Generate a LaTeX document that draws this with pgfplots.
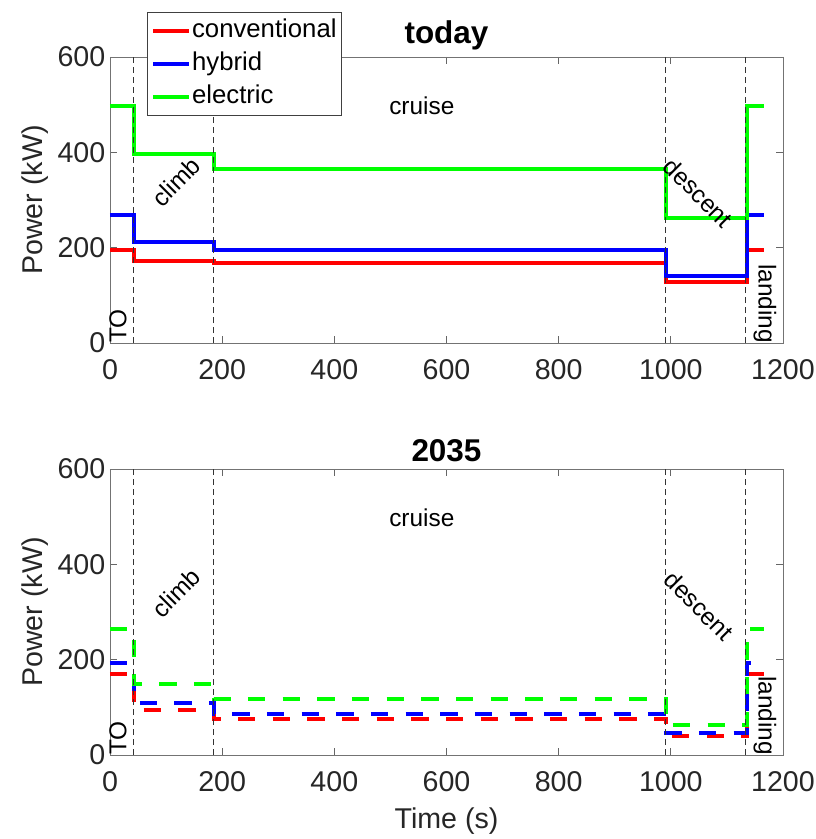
\documentclass[border=0pt]{standalone}
\usepackage{fontspec}
\setmainfont{Liberation Sans}
\usepackage{pgfplots}
\pgfplotsset{compat=1.18}

\newcommand{\axfont}{\fontsize{21.45}{25}\selectfont}
\newcommand{\legfont}{\fontsize{19.3}{22}\selectfont}
\newcommand{\titfont}{\fontsize{23.6}{27}\selectfont\bfseries}
\newcommand{\annfont}{\fontsize{18.3}{21}\selectfont}

\pgfplotsset{
  myax/.style={
    scale only axis, width=504.75pt, height=214.5pt,
    xmin=0, xmax=1200, ymin=0, ymax=600,
    xtick={0,200,...,1200}, ytick={0,200,400,600},
    tick align=inside, major tick length=5pt,
    axis line style={black!55, line width=0.6pt},
    every tick/.style={black!60, line width=0.6pt},
    tick label style={font=\axfont, text=black!85},
    xticklabel style={yshift=-9pt},
    /pgf/number format/assume math mode=true,
    /pgf/number format/1000 sep={},
    label style={font=\axfont, text=black!85},
    xlabel style={yshift=-5pt},
    title style={font=\titfont, yshift=-4pt},
    ylabel={Power (kW)},
  },
  vline/.style={black!80, line width=0.5pt, dash pattern=on 4.5pt off 3pt, forget plot},
  sl/.style={line width=3pt, const plot},
  dl/.style={line width=3pt, const plot, dash pattern=on 13pt off 13pt},
}

\begin{document}
\begin{tikzpicture}
\useasboundingbox (-82.5pt,-372pt) rectangle (529.5pt,257.25pt);
% ---------------- top ----------------
\begin{axis}[myax, at={(0,0)}, anchor=south west, title={today},
  legend style={at={(rel axis cs:0.055,1.157)}, anchor=north west, font=\legfont,
    draw=black!75, line width=0.6pt, inner xsep=3pt, inner ysep=4.5pt,
    row sep=5pt, cells={anchor=west},
    nodes={inner sep=0.5pt, text height=14pt, text depth=4.5pt}},
  legend image code/.code={\draw[#1] (0pt,0pt) -- (27pt,0pt);},
]
\addplot[sl, red]   coordinates {(0,195) (42,171) (186,167) (992,127) (1135,195) (1166,195)};
\addplot[sl, blue]  coordinates {(0,268) (42,212) (186,196) (992,140) (1135,268) (1166,268)};
\addplot[sl, green] coordinates {(0,498) (42,397) (186,365) (992,263) (1135,498) (1166,498)};
\legend{conventional, hybrid, electric}
\addplot[vline] coordinates {(41,0) (41,600)};
\addplot[vline] coordinates {(184,0) (184,600)};
\addplot[vline] coordinates {(990,0) (990,600)};
\addplot[vline] coordinates {(1132,0) (1132,600)};
\node[font=\annfont, rotate=90, anchor=west, inner sep=0pt] at (axis cs:14,0) {TO};
\node[font=\annfont, rotate=45] at (axis cs:118,338) {climb};
\node[font=\annfont] at (axis cs:556,497) {cruise};
\node[font=\annfont, rotate=-45] at (axis cs:1049,315) {descent};
\node[font=\annfont, rotate=-90, anchor=east, inner sep=0pt] at (axis cs:1168,0) {landing};
\end{axis}
% ---------------- bottom ----------------
\begin{axis}[myax, at={(0,-309pt)}, anchor=south west, title={2035}, xlabel={Time (s)}]
\addplot[dl, red]   coordinates {(0,170) (42,95) (186,75) (992,40) (1135,170) (1166,170)};
\addplot[dl, blue]  coordinates {(0,193) (42,110) (186,86) (992,47) (1135,193) (1166,193)};
\addplot[dl, green] coordinates {(0,265) (42,150) (186,118) (992,64) (1135,265) (1166,265)};
\addplot[vline] coordinates {(41,0) (41,600)};
\addplot[vline] coordinates {(184,0) (184,600)};
\addplot[vline] coordinates {(990,0) (990,600)};
\addplot[vline] coordinates {(1132,0) (1132,600)};
\node[font=\annfont, rotate=90, anchor=west, inner sep=0pt] at (axis cs:14,0) {TO};
\node[font=\annfont, rotate=45] at (axis cs:118,340) {climb};
\node[font=\annfont] at (axis cs:556,497) {cruise};
\node[font=\annfont, rotate=-45] at (axis cs:1050,313) {descent};
\node[font=\annfont, rotate=-90, anchor=east, inner sep=0pt] at (axis cs:1168,0) {landing};
\end{axis}
\end{tikzpicture}
\end{document}
